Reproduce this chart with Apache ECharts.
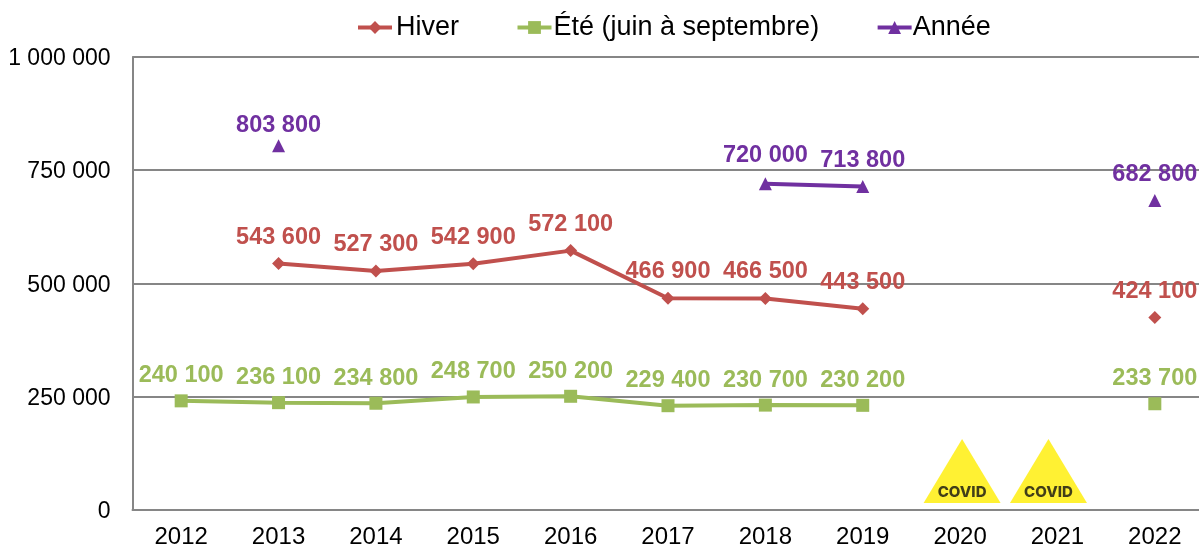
<!DOCTYPE html>
<html><head><meta charset="utf-8">
<style>html,body{margin:0;padding:0;background:#fff;overflow:hidden}#c{width:1199px;height:545px}</style>
<script src="https://cdn.jsdelivr.net/npm/echarts@6/dist/echarts.min.js"></script>
</head><body><div id="c"></div>
<script>
const years = ['2012','2013','2014','2015','2016','2017','2018','2019','2020','2021','2022'];
const hiver = [null,543600,527300,542900,572100,466900,466500,443500,null,null,424100];
const ete = [240100,236100,234800,248700,250200,229400,230700,230200,null,null,233700];
const annee = [null,803800,null,null,null,null,720000,713800,null,null,682800];
const anneeGap = [8,2,8,8,8,8,10,7,8,8,8];
const covid = [null,null,null,null,null,null,null,null,85000,85000,null];
const covidShift = [0,0,0,0,0,0,0,0,2,-9,0];
const covidLabel = 'COVID';
const fmt = v => String(v).replace(/\B(?=(\d{3})+$)/g,' ');
const font = '"Liberation Sans", Arial, sans-serif';
function serie(name,data,color,symbol,size,dist){
  return {name,type:'line',data,connectNulls:false,symbol,symbolSize:size,
    showAllSymbol:true,clip:false,
    lineStyle:{color,width:4},itemStyle:{color},
    label:{show:true,position:'top',distance:dist,color,fontFamily:font,fontWeight:'bold',fontSize:23.5,
      formatter:p=>fmt(p.value)}};
}
const purple = serie('Année',annee,'#7030A0','triangle',13,8);
purple.data = annee.map((v,i)=>v===null?null:{value:v,label:{distance:anneeGap[i]}});
const chart = echarts.init(document.getElementById('c'),null,{renderer:'canvas'});
chart.setOption({
  animation:false,backgroundColor:'#fff',
  legend:{data:[
      {name:'Hiver',textStyle:{padding:[0,0,0,-1]}},
      {name:'Été (juin à septembre)',textStyle:{padding:[0,0,0,-3]}},
      {name:'Année',textStyle:{padding:[0,0,0,-4]}}],
    left:351,top:9,itemWidth:34,itemHeight:16,itemGap:56.5,
    lineStyle:{width:4},
    textStyle:{fontFamily:font,fontSize:27,color:'#000'}},
  grid:{left:132.5,top:57,width:1071,height:452.5,outerBoundsMode:'none'},
  xAxis:{type:'category',data:years,boundaryGap:true,
    axisLine:{lineStyle:{color:'#868686',width:2}},axisTick:{show:false},
    axisLabel:{fontFamily:font,fontSize:24,color:'#000',margin:16,interval:0}},
  yAxis:{type:'value',min:0,max:1000000,interval:250000,
    axisLine:{show:true,lineStyle:{color:'#868686',width:2}},axisTick:{show:false},
    splitLine:{lineStyle:{color:'#868686',width:2}},
    axisLabel:{margin:22,formatter:v=>'{t|'+fmt(v)+'}',
      rich:{t:{fontFamily:font,fontSize:23,color:'#000',padding:[4,0,0,0]}}}},
  series:[
    serie('Hiver',hiver,'#C0504D','diamond',13,8),
    serie('Été (juin à septembre)',ete,'#9BBB59','rect',13,6.5),
    purple,
    {name:'COVID',type:'scatter',data:covid.map((v,i)=>v===null?null:{value:v,symbolOffset:[covidShift[i],0]}),
     symbol:'triangle',symbolSize:[77,64],
     itemStyle:{color:'#FFED00'},z:1,
     label:{show:true,position:'inside',offset:[0,21],formatter:covidLabel,
       color:'#111',fontFamily:'Inter, sans-serif',fontWeight:800,fontSize:15}}
  ]
});
</script></body></html>
